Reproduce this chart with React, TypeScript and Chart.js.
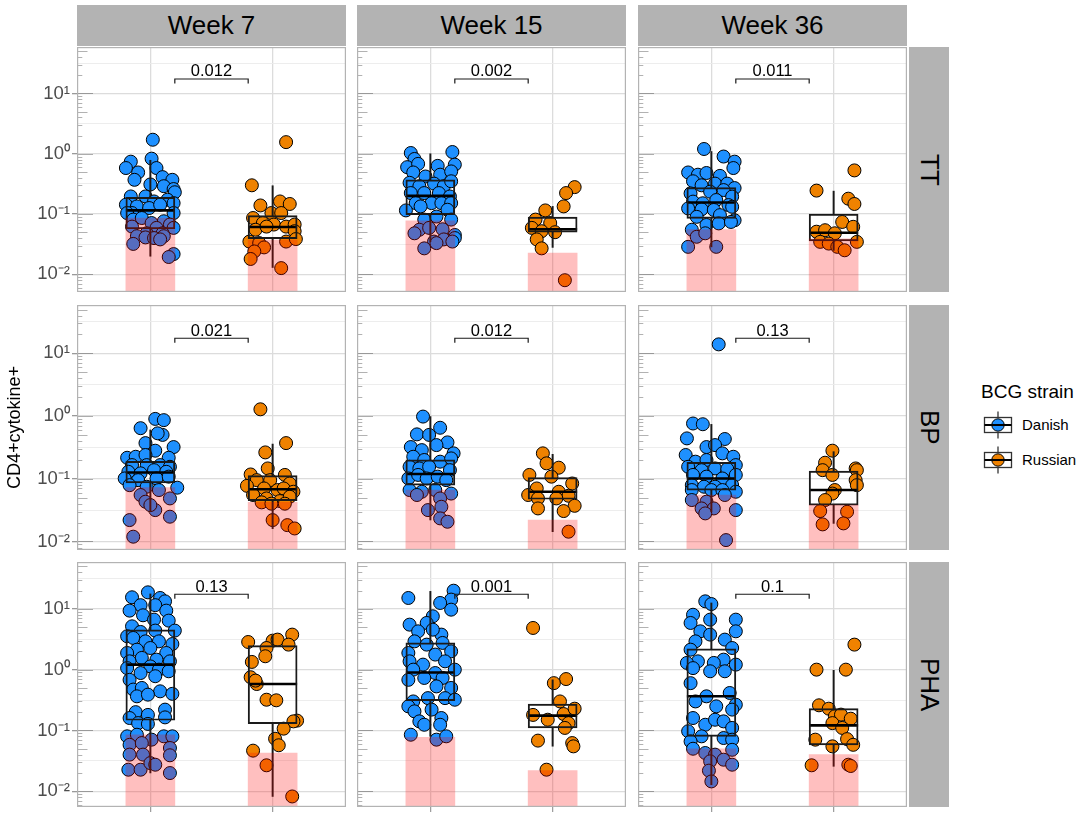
import React, { useEffect, useRef } from "react";
import { Chart, registerables } from "chart.js";

Chart.register(...registerables);

type Pt = [number, number];

// ---------- labels & categories ----------
const weeks = ["Week 7", "Week 15", "Week 36"];
const stimulations = ["TT", "BP", "PHA"];
const strains = ["Danish", "Russian"];
const strainPositions = [1, 2];
const strainColors = ["#1E90FF", "#EF8200"];
const yTitle = "CD4+cytokine+";
const legendTitle = "BCG strain";

// ---------- axis ticks ----------
const yTickValues = [0.01, 0.1, 1, 10];
const yTickLabels = ["10⁻²", "10⁻¹", "10⁰", "10¹"];
const rowYMin = [0.0051, 0.0073, 0.0055];
const rowYMax = [59, 59, 59];

// ---------- p-values (bracket labels) ----------
const ttPValues = ["0.012", "0.002", "0.011"];
const bpPValues = ["0.021", "0.012", "0.13"];
const phaPValues = ["0.13", "0.001", "0.1"];
const bracketFrom = 1.2;
const bracketTo = 1.8;
const bracketTop = 17.4;
const bracketEnd = 14.7;

// ---------- background (pink) levels: [Danish, Russian] per week ----------
const ttBackground = [[0.086, 0.037], [0.077, 0.0226], [0.0555, 0.039]];
const bpBackground = [[0.072, 0.042], [0.066, 0.0219], [0.055, 0.038]];
const phaBackground = [[0.085, 0.0425], [0.077, 0.0218], [0.05, 0.04]];

// ---------- box stats [lowWhisker, q1, median, q3, highWhisker] ----------
const ttW7DanishBox = [0.02, 0.057, 0.115, 0.19, 0.78];
const ttW7RussianBox = [0.013, 0.039, 0.061, 0.094, 0.295];
const ttW15DanishBox = [0.035, 0.0975, 0.2, 0.37, 1.0];
const ttW15RussianBox = [0.028, 0.05, 0.056, 0.089, 0.134];
const ttW36DanishBox = [0.0286, 0.085, 0.156, 0.275, 1.09];
const ttW36RussianBox = [0.025, 0.036, 0.049, 0.1, 0.24];
const bpW7DanishBox = [0.0297, 0.086, 0.126, 0.19, 0.6];
const bpW7RussianBox = [0.016, 0.0446, 0.068, 0.112, 0.357];
const bpW15DanishBox = [0.022, 0.079, 0.119, 0.2, 0.98];
const bpW15RussianBox = [0.0143, 0.047, 0.062, 0.104, 0.245];
const bpW36DanishBox = [0.0297, 0.066, 0.101, 0.182, 0.736];
const bpW36RussianBox = [0.0194, 0.038, 0.066, 0.132, 0.27];
const phaW7DanishBox = [0.02, 0.147, 1.21, 4.5, 17.6];
const phaW7RussianBox = [0.0082, 0.129, 0.58, 2.48, 3.67];
const phaW15DanishBox = [0.08, 0.309, 0.9, 2.75, 19.4];
const phaW15RussianBox = [0.055, 0.11, 0.175, 0.272, 0.68];
const phaW36DanishBox = [0.0128, 0.08, 0.364, 2.19, 12.5];
const phaW36RussianBox = [0.0257, 0.058, 0.121, 0.228, 0.975];

// ---------- individual points [jitter offset, value] ----------
const ttW7Danish: Pt[] = [
  [0.02, 1.71], [-0.16, 0.74], [-0.2, 0.58], [0.01, 0.83], [0.05, 0.58], [-0.1, 0.49], [-0.13, 0.37],
  [0.1, 0.41], [0.18, 0.37], [0, 0.31], [0.11, 0.29], [0.19, 0.26], [0.2, 0.23], [-0.16, 0.196],
  [-0.04, 0.196], [0.03, 0.162], [0.14, 0.173], [0.19, 0.152], [-0.2, 0.143], [-0.11, 0.134],
  [-0.01, 0.126], [0.08, 0.143], [-0.15, 0.104], [-0.19, 0.104], [0.19, 0.104], [-0.14, 0.081],
  [-0.07, 0.086], [0.01, 0.071], [0.11, 0.076], [0.16, 0.067], [0.19, 0.059], [0.05, 0.059],
  [-0.15, 0.062], [-0.03, 0.048], [0.1, 0.048], [-0.11, 0.043], [-0.04, 0.041], [0.03, 0.04],
  [0.11, 0.043], [-0.14, 0.032], [0.08, 0.038], [0.19, 0.0217], [0.15, 0.0194],
];
const ttW7Russian: Pt[] = [
  [0.11, 1.56], [-0.17, 0.3], [-0.1, 0.139], [0.06, 0.162], [0.14, 0.147], [-0.16, 0.086], [-0.01, 0.104],
  [0.07, 0.104], [-0.08, 0.071], [0.01, 0.067], [0.11, 0.062], [0.18, 0.067], [-0.14, 0.055], [-0.05, 0.062],
  [0.18, 0.052], [-0.19, 0.035], [-0.11, 0.033], [0.11, 0.035], [0.19, 0.0385], [-0.07, 0.028],
  [-0.15, 0.024], [-0.18, 0.018], [0.07, 0.0127],
];
const ttW15Danish: Pt[] = [
  [-0.16, 1.03], [-0.13, 0.82], [-0.19, 0.6], [-0.1, 0.68], [0.18, 1.07], [0.2, 0.66], [0.06, 0.63],
  [-0.14, 0.49], [-0.04, 0.42], [0.08, 0.45], [0.17, 0.51], [-0.17, 0.33], [-0.09, 0.29], [0.03, 0.32],
  [0.11, 0.29], [0.17, 0.35], [-0.16, 0.223], [-0.05, 0.223], [0.07, 0.223], [0.16, 0.196], [-0.12, 0.152],
  [0.01, 0.152], [0.09, 0.152], [0.17, 0.152], [-0.2, 0.115], [-0.08, 0.134], [0.14, 0.118], [-0.05, 0.081],
  [0.05, 0.091], [0.17, 0.081], [-0.09, 0.055], [-0.01, 0.059], [0.1, 0.056], [0.2, 0.045], [-0.13, 0.048],
  [0.03, 0.035], [0.11, 0.038], [0.2, 0.04], [-0.05, 0.027], [0.05, 0.033], [0.18, 0.035],
];
const ttW15Russian: Pt[] = [
  [0.18, 0.28], [0.11, 0.223], [0.09, 0.134], [-0.06, 0.115], [-0.14, 0.081], [-0.02, 0.071],
  [-0.17, 0.059], [-0.09, 0.052], [0.02, 0.05], [-0.13, 0.038], [-0.09, 0.027], [0.1, 0.008],
];
const ttW36Danish: Pt[] = [
  [-0.06, 1.2], [0.1, 0.9], [0.19, 0.74], [0.18, 0.58], [-0.19, 0.49], [-0.11, 0.45], [-0.04, 0.48],
  [0.07, 0.43], [-0.15, 0.35], [-0.08, 0.3], [0.03, 0.32], [0.13, 0.32], [0.19, 0.27], [-0.17, 0.22],
  [-0.01, 0.235], [0.1, 0.25], [0.17, 0.195], [-0.15, 0.161], [-0.07, 0.151], [0.04, 0.171], [0.14, 0.141],
  [-0.19, 0.124], [-0.08, 0.12], [0.02, 0.117], [0.17, 0.132], [-0.12, 0.09], [0.07, 0.096], [0.19, 0.079],
  [-0.16, 0.055], [-0.04, 0.066], [0.06, 0.07], [0.16, 0.074], [-0.12, 0.042], [-0.19, 0.0286],
  [0.04, 0.0286], [-0.05, 0.048],
];
const ttW36Russian: Pt[] = [
  [0.17, 0.53], [-0.14, 0.245], [0.12, 0.18], [0.17, 0.147], [0.07, 0.074], [-0.14, 0.051], [-0.07, 0.054],
  [0.01, 0.048], [0.16, 0.0615], [-0.11, 0.0346], [-0.04, 0.0324], [0.03, 0.0286], [0.09, 0.0251],
  [0.19, 0.0346],
];
const bpW7Danish: Pt[] = [
  [0.04, 0.9], [0.11, 0.86], [-0.08, 0.64], [0.1, 0.5], [0.06, 0.53], [-0.04, 0.37], [0.19, 0.32],
  [0.04, 0.28], [-0.19, 0.216], [-0.12, 0.224], [-0.04, 0.239], [0.15, 0.216], [-0.03, 0.165],
  [-0.15, 0.165], [0.08, 0.165], [0.16, 0.155], [-0.18, 0.129], [-0.08, 0.122], [0.03, 0.137],
  [0.13, 0.129], [-0.21, 0.101], [-0.1, 0.095], [0.05, 0.101], [0.15, 0.108], [-0.17, 0.079],
  [-0.03, 0.0745], [0.22, 0.072], [0.07, 0.066], [-0.08, 0.055], [-0.04, 0.043], [0.16, 0.0485],
  [0.04, 0.0316], [0, 0.038], [-0.17, 0.0219], [0.16, 0.0248], [-0.14, 0.0119],
];
const bpW7Russian: Pt[] = [
  [-0.1, 1.28], [0.11, 0.37], [-0.06, 0.263], [-0.04, 0.146], [-0.18, 0.117], [-0.13, 0.095], [-0.02, 0.095],
  [0.1, 0.115], [-0.21, 0.077], [0.14, 0.084], [-0.07, 0.07], [0.04, 0.066], [0.09, 0.07], [0.17, 0.062],
  [-0.16, 0.055], [-0.05, 0.0485], [0.06, 0.044], [0.14, 0.0516], [-0.09, 0.042], [-0.01, 0.04],
  [0.1, 0.04], [0, 0.0219], [0.12, 0.0182], [0.18, 0.0161],
];
const bpW15Danish: Pt[] = [
  [-0.06, 0.98], [0.08, 0.65], [-0.11, 0.51], [-0.01, 0.5], [0.14, 0.38], [-0.16, 0.32], [-0.07, 0.286],
  [0.05, 0.344], [0.19, 0.254], [-0.14, 0.224], [-0.05, 0.199], [0.08, 0.187], [0.17, 0.211],
  [-0.17, 0.155], [-0.09, 0.146], [-0.01, 0.155], [0.16, 0.137], [-0.18, 0.101], [-0.1, 0.115],
  [-0.03, 0.101], [0.06, 0.108], [0.13, 0.095], [-0.17, 0.066], [-0.07, 0.062], [0.04, 0.066],
  [0.17, 0.058], [-0.11, 0.055], [0.08, 0.0485], [-0.02, 0.0316], [0.09, 0.0357], [0.08, 0.0233],
  [0.14, 0.0206],
];
const bpW15Russian: Pt[] = [
  [-0.08, 0.254], [-0.05, 0.176], [0.05, 0.15], [-0.19, 0.115], [-0.01, 0.108], [0.16, 0.084], [-0.13, 0.07],
  [0.05, 0.062], [-0.2, 0.055], [0.13, 0.0535], [-0.12, 0.0485], [0.03, 0.0485], [0.18, 0.037],
  [-0.12, 0.0336], [0.09, 0.0305], [0.13, 0.0143],
];
const bpW36Danish: Pt[] = [
  [0.06, 13.9], [-0.15, 0.76], [-0.07, 0.74], [-0.2, 0.44], [0.11, 0.43], [-0.04, 0.32], [0.03, 0.344],
  [-0.21, 0.239], [0.09, 0.254], [0.18, 0.224], [-0.13, 0.187], [-0.04, 0.199], [0.2, 0.165], [-0.19, 0.155],
  [-0.08, 0.137], [0.03, 0.146], [0.13, 0.143], [-0.15, 0.115], [-0.04, 0.108], [0.09, 0.101], [0.2, 0.115],
  [-0.16, 0.079], [-0.06, 0.0745], [0.03, 0.0745], [0.17, 0.079], [-0.16, 0.066], [0, 0.066], [0.09, 0.066],
  [0.2, 0.062], [-0.16, 0.0457], [-0.04, 0.043], [0.11, 0.055], [-0.08, 0.0336], [0.02, 0.0336],
  [0.2, 0.0316], [-0.05, 0.028], [0.12, 0.0105],
];
const bpW36Russian: Pt[] = [
  [-0.01, 0.28], [-0.07, 0.18], [-0.09, 0.137], [0.18, 0.146], [0.19, 0.137], [-0.01, 0.115], [0.18, 0.095],
  [0.19, 0.079], [0.01, 0.066], [-0.01, 0.058], [-0.07, 0.0457], [-0.11, 0.0305], [0.11, 0.0297],
  [-0.09, 0.0187], [0.08, 0.0194],
];
const phaW7Danish: Pt[] = [
  [-0.02, 18.7], [-0.15, 15.5], [0.08, 15.1], [0.12, 13.3], [-0.08, 11.5], [0.04, 11.5], [-0.17, 9.35],
  [0.13, 9.35], [-0.06, 7.84], [0.03, 6.65], [0.15, 6.4], [-0.15, 5.16], [0.2, 4.39], [-0.08, 4.17],
  [0.04, 4.39], [-0.19, 3.54], [-0.14, 3.32], [0.07, 2.92], [0.18, 2.64], [-0.04, 2.92], [-0.11, 2.13],
  [0, 2.27], [-0.19, 1.88], [0.13, 1.88], [-0.07, 1.56], [0.05, 1.46], [-0.17, 1.37], [0.16, 1.37],
  [-0.19, 1.06], [0, 1.13], [-0.08, 0.88], [0.07, 1.0], [0.15, 0.94], [-0.17, 0.68], [0.04, 0.78],
  [-0.14, 0.47], [-0.07, 0.5], [0.08, 0.44], [0.18, 0.4], [-0.11, 0.364], [-0.02, 0.388], [-0.12, 0.2],
  [-0.02, 0.18], [0.12, 0.22], [-0.17, 0.16], [0.12, 0.164], [-0.1, 0.132], [-0.02, 0.128], [-0.19, 0.08],
  [-0.11, 0.085], [0.01, 0.0705], [0.11, 0.08], [0.18, 0.08], [-0.17, 0.058], [-0.07, 0.062], [0.16, 0.0514],
  [-0.17, 0.04], [-0.06, 0.04], [0.16, 0.039], [-0.18, 0.0226], [-0.08, 0.0226], [0, 0.029], [0.04, 0.0273],
  [0.16, 0.0199],
];
const phaW7Russian: Pt[] = [
  [-0.2, 2.85], [0, 3.0], [0.04, 3.12], [0.16, 3.77], [0.13, 2.58], [-0.05, 2.27], [-0.06, 1.66], [-0.17, 1.34],
  [-0.18, 0.75], [-0.13, 0.58], [-0.14, 0.66], [-0.05, 0.32], [0.03, 0.313], [0.2, 0.145], [0.17, 0.141],
  [0.09, 0.107], [0.02, 0.073], [0.05, 0.057], [-0.16, 0.0465], [-0.05, 0.0267], [0.16, 0.0082],
];
const phaW15Danish: Pt[] = [
  [0.19, 19.9], [-0.18, 15.1], [0.17, 14.2], [0.08, 12.5], [0.17, 9.7], [0.02, 7.55], [-0.17, 5.5],
  [-0.03, 5.86], [-0.1, 4.27], [0.09, 3.77], [0.02, 4.55], [-0.13, 2.92], [0.1, 2.75], [-0.03, 2.58],
  [-0.18, 1.88], [0.04, 1.77], [0.17, 2.0], [-0.17, 1.37], [-0.06, 1.21], [0.12, 1.37], [-0.14, 1.0],
  [0.2, 1.0], [0.04, 0.88], [-0.18, 0.68], [-0.05, 0.73], [0.1, 0.73], [0.05, 0.53], [0.17, 0.5],
  [-0.02, 0.34], [-0.14, 0.3], [0.12, 0.34], [0.2, 0.32], [-0.18, 0.249], [-0.13, 0.206], [0.01, 0.22],
  [0.09, 0.16], [-0.09, 0.141], [-0.05, 0.124], [0.08, 0.124], [-0.16, 0.085], [0.05, 0.0705], [0.13, 0.08],
];
const phaW15Russian: Pt[] = [
  [-0.16, 4.85], [0.11, 0.7], [0.01, 0.6], [0.06, 0.3], [-0.16, 0.18], [-0.04, 0.15], [0.09, 0.186],
  [0.18, 0.228], [0.13, 0.132], [0.1, 0.11], [-0.12, 0.068], [0.16, 0.062], [0.17, 0.0547], [-0.05, 0.0226],
];
const phaW36Danish: Pt[] = [
  [-0.05, 13.3], [0, 12.0], [-0.15, 8.0], [0.2, 6.65], [-0.17, 5.86], [-0.01, 6.65], [0.2, 4.27],
  [-0.09, 4.27], [-0.01, 3.77], [0.11, 3.12], [-0.13, 2.92], [0.17, 2.27], [-0.17, 2.13], [0.1, 1.46],
  [-0.11, 1.37], [0.02, 1.29], [-0.2, 1.29], [0.2, 1.21], [-0.15, 1.06], [-0.01, 0.94], [0.11, 0.94],
  [-0.17, 0.6], [0.15, 0.413], [-0.04, 0.364], [-0.13, 0.3], [0.2, 0.265], [0.04, 0.249], [0.17, 0.22],
  [-0.15, 0.16], [-0.05, 0.124], [0.03, 0.15], [0.1, 0.141], [0.17, 0.11], [-0.19, 0.097], [-0.08, 0.08],
  [0.1, 0.075], [-0.17, 0.066], [0.17, 0.0705], [-0.15, 0.05], [-0.05, 0.0425], [0.03, 0.04], [0.17, 0.048],
  [0.1, 0.033], [-0.01, 0.031], [0.17, 0.0273], [-0.02, 0.0218], [0, 0.0145],
];
const phaW36Russian: Pt[] = [
  [0.17, 2.58], [-0.14, 1.0], [0.1, 1.0], [-0.12, 0.259], [-0.04, 0.228], [0.01, 0.171], [0.06, 0.182],
  [0.14, 0.156], [-0.01, 0.132], [0.07, 0.11], [-0.15, 0.0705], [0.11, 0.072], [0.16, 0.058], [-0.01, 0.0547],
  [-0.18, 0.0267], [0.12, 0.0273], [0.14, 0.026],
];

// ---------- assemble (row = stimulation, col = week) ----------
const panelPoints: Pt[][][][] = [
  [[ttW7Danish, ttW7Russian], [ttW15Danish, ttW15Russian], [ttW36Danish, ttW36Russian]],
  [[bpW7Danish, bpW7Russian], [bpW15Danish, bpW15Russian], [bpW36Danish, bpW36Russian]],
  [[phaW7Danish, phaW7Russian], [phaW15Danish, phaW15Russian], [phaW36Danish, phaW36Russian]],
];
const panelBoxes: number[][][][] = [
  [[ttW7DanishBox, ttW7RussianBox], [ttW15DanishBox, ttW15RussianBox], [ttW36DanishBox, ttW36RussianBox]],
  [[bpW7DanishBox, bpW7RussianBox], [bpW15DanishBox, bpW15RussianBox], [bpW36DanishBox, bpW36RussianBox]],
  [[phaW7DanishBox, phaW7RussianBox], [phaW15DanishBox, phaW15RussianBox], [phaW36DanishBox, phaW36RussianBox]],
];
const panelBackground = [ttBackground, bpBackground, phaBackground];
const panelPValues = [ttPValues, bpPValues, phaPValues];

// ---------- layout ----------
const FONT = '"Liberation Sans", Arial, Helvetica, sans-serif';
const colLeft = [77, 357, 638];
const panelW = 269;
const rowTop = [47, 305, 562];
const panelH = 245;
const yAxisW = 77;
const xAxisH = 8;
const BOX_W = 49;

const isDecade = (v: number) => Math.abs(Math.log10(v) - Math.round(Math.log10(v))) < 1e-6;

const logTicksPlugin = {
  id: "logTicks",
  beforeDatasetsDraw(chart: any) {
    const { ctx, chartArea: a, scales } = chart;
    const y = scales.y;
    ctx.save();
    ctx.strokeStyle = "rgba(0,0,0,0.38)";
    ctx.lineWidth = 0.8;
    for (let k = -3; k <= 2; k++) {
      for (let m = 1; m <= 9; m++) {
        const v = m * Math.pow(10, k);
        if (v < y.min || v > y.max) continue;
        const py = Math.round(y.getPixelForValue(v)) + 0.5;
        const len = m === 1 ? 16 : m === 5 ? 10.5 : 5.3;
        ctx.beginPath();
        ctx.moveTo(a.left, py);
        ctx.lineTo(a.left + len, py);
        ctx.stroke();
      }
    }
    ctx.restore();
  },
};

const borderPlugin = {
  id: "panelBorder",
  afterDraw(chart: any) {
    const { ctx, chartArea: a } = chart;
    ctx.save();
    ctx.strokeStyle = "#b3b3b3";
    ctx.lineWidth = 1.2;
    ctx.strokeRect(a.left + 0.6, a.top + 0.6, a.right - a.left - 1.2, a.bottom - a.top - 1.2);
    ctx.restore();
  },
};

function makePLabelPlugin(text: string) {
  return {
    id: "pLabel",
    afterDatasetsDraw(chart: any) {
      const { ctx, scales } = chart;
      ctx.save();
      ctx.font = `16.5px ${FONT}`;
      ctx.fillStyle = "#000";
      ctx.textAlign = "center";
      ctx.textBaseline = "alphabetic";
      ctx.fillText(text, scales.x.getPixelForValue((bracketFrom + bracketTo) / 2), scales.y.getPixelForValue(bracketTop) - 2.5);
      ctx.restore();
    },
  };
}

function Panel({ row, col }: { row: number; col: number }) {
  const ref = useRef<HTMLCanvasElement>(null);
  const left = col === 0 ? 0 : colLeft[col];
  const width = col === 0 ? colLeft[0] + panelW : panelW;
  const top = rowTop[row];
  const height = panelH + (row === 2 ? xAxisH : 0);

  useEffect(() => {
    const yMin = rowYMin[row];
    const yMax = rowYMax[row];
    const pts = panelPoints[row][col];
    const boxes = panelBoxes[row][col];
    const bg = panelBackground[row][col];

    const datasets: any[] = [
      {
        type: "bar",
        data: strainPositions.map((p, i) => ({ x: p, y: [yMin, bg[i]] })),
        backgroundColor: "rgba(255,0,0,0.25)",
        borderWidth: 0,
        barThickness: BOX_W,
        grouped: false,
        order: 0,
      },
      {
        type: "scatter",
        data: [
          { x: bracketFrom, y: bracketEnd },
          { x: bracketFrom, y: bracketTop },
          { x: bracketTo, y: bracketTop },
          { x: bracketTo, y: bracketEnd },
        ],
        showLine: true,
        borderColor: "#1a1a1a",
        borderWidth: 1.2,
        pointRadius: 0,
        tension: 0,
        order: 1,
      },
      {
        type: "bar",
        data: strainPositions.map((p, i) => ({ x: p, y: [boxes[i][1], boxes[i][3]] })),
        backgroundColor: "rgba(0,0,0,0)",
        borderColor: "#1a1a1a",
        borderWidth: 1.3,
        borderSkipped: false,
        barThickness: BOX_W,
        grouped: false,
        order: 2,
      },
      {
        type: "bar",
        data: strainPositions.flatMap((p, i) => [
          { x: p, y: [boxes[i][0], boxes[i][1]] },
          { x: p, y: [boxes[i][3], boxes[i][4]] },
        ]),
        backgroundColor: "#1a1a1a",
        borderWidth: 0,
        barThickness: 1.3,
        grouped: false,
        order: 2,
      },
      {
        type: "scatter",
        data: strainPositions.map((p, i) => ({ x: p, y: boxes[i][2] })),
        pointStyle: "line",
        pointRadius: BOX_W / 2,
        borderColor: "#000",
        borderWidth: 2.6,
        order: 2,
      },
      ...strains.map((s, i) => ({
        type: "scatter",
        label: s,
        data: pts[i].map(([dx, v]) => ({ x: strainPositions[i] + dx, y: v })),
        backgroundColor: strainColors[i],
        borderColor: "#000",
        borderWidth: 1,
        pointRadius: 6.5,
        order: 3,
      })),
    ];

    const chart = new Chart(ref.current as HTMLCanvasElement, {
      type: "scatter",
      data: { datasets },
      options: {
        animation: false,
        responsive: false,
        events: [],
        layout: { padding: 0, autoPadding: false },
        plugins: {
          legend: { display: false },
          tooltip: { enabled: false },
          title: { display: false },
        },
        scales: {
          x: {
            type: "linear",
            min: 0.4,
            max: 2.6,
            offset: false,
            afterBuildTicks: (s: any) => {
              s.ticks = strainPositions.map((v) => ({ value: v }));
            },
            afterFit: (s: any) => {
              s.height = row === 2 ? xAxisH : 0;
              s.paddingLeft = 0;
              s.paddingRight = 0;
              s.paddingTop = 0;
              s.paddingBottom = 0;
            },
            ticks: { display: false },
            grid: {
              offset: false,
              color: "#dcdcdc",
              lineWidth: 1.3,
              drawTicks: row === 2,
              tickLength: 5,
              tickColor: "#9a9a9a",
              tickWidth: 1.2,
            },
            border: { display: false },
          },
          y: {
            type: "logarithmic",
            min: yMin,
            max: yMax,
            offset: false,
            afterBuildTicks: (s: any) => {
              const t: any[] = [];
              for (let k = -3; k <= 2; k++) {
                for (const e of [0, 0.5]) {
                  const v = Math.pow(10, k + e);
                  if (v >= s.min && v <= s.max) t.push({ value: v });
                }
              }
              s.ticks = t;
            },
            afterFit: (s: any) => {
              s.width = col === 0 ? yAxisW : 0;
              s.paddingTop = 0;
              s.paddingBottom = 0;
              s.paddingLeft = 0;
              s.paddingRight = 0;
            },
            ticks: {
              display: col === 0,
              autoSkip: false,
              padding: 2,
              color: "#4d4d4d",
              font: { family: FONT, size: 18.5 },
              callback: (v: any) => {
                const idx = yTickValues.findIndex((t) => Math.abs(t - Number(v)) / t < 1e-6);
                return idx >= 0 ? yTickLabels[idx] : "";
              },
            },
            grid: {
              offset: false,
              color: (c: any) => (c.tick && isDecade(c.tick.value) ? "#dcdcdc" : "#ebebeb"),
              lineWidth: (c: any) => (c.tick && isDecade(c.tick.value) ? 1.3 : 0.9),
              drawTicks: col === 0,
              tickLength: 5,
              tickColor: (c: any) => (c.tick && isDecade(c.tick.value) ? "#9a9a9a" : "rgba(0,0,0,0)"),
            },
            border: { display: false },
          },
        },
      } as any,
      plugins: [logTicksPlugin, borderPlugin, makePLabelPlugin(panelPValues[row][col])],
    });
    return () => chart.destroy();
  }, [row, col]);

  return (
    <canvas
      ref={ref}
      width={width}
      height={height}
      style={{ position: "absolute", left, top, width, height }}
    />
  );
}

function LegendKey({ color, cy }: { color: string; cy: number }) {
  return (
    <svg width={30} height={30} style={{ position: "absolute", left: 982.5, top: cy - 15 }}>
      <line x1={15} y1={1.5} x2={15} y2={28.5} stroke="#333" strokeWidth={1.3} />
      <rect x={1.5} y={7.5} width={27} height={15} fill="#fff" stroke="#333" strokeWidth={1.3} />
      <circle cx={15} cy={15} r={6.2} fill={color} stroke="#000" strokeWidth={1} />
      <line x1={1.5} y1={15} x2={28.5} y2={15} stroke="#000" strokeWidth={2} />
    </svg>
  );
}

export default function App() {
  const stripStyle: React.CSSProperties = {
    position: "absolute",
    background: "#b3b3b3",
    color: "#000",
    fontFamily: FONT,
    fontSize: 26,
    display: "flex",
    alignItems: "center",
    justifyContent: "center",
  };
  return (
    <div
      style={{
        position: "absolute",
        left: 0,
        top: 0,
        width: 1084,
        height: 820,
        background: "#fff",
        overflow: "hidden",
        fontFamily: FONT,
      }}
    >
      {weeks.map((w, c) => (
        <div key={w} style={{ ...stripStyle, left: colLeft[c], top: 5, width: panelW, height: 41 }}>
          {w}
        </div>
      ))}
      {stimulations.map((s, r) => (
        <div
          key={s}
          style={{
            ...stripStyle,
            left: 909,
            top: rowTop[r],
            width: 40,
            height: panelH,
            writingMode: "vertical-rl",
          }}
        >
          {s}
        </div>
      ))}
      {stimulations.map((s, r) =>
        weeks.map((w, c) => <Panel key={`${s}-${w}`} row={r} col={c} />)
      )}
      <div
        style={{
          position: "absolute",
          left: 4,
          top: rowTop[0],
          width: 22,
          height: rowTop[2] + panelH - rowTop[0],
          display: "flex",
          alignItems: "center",
          justifyContent: "center",
          writingMode: "vertical-rl",
          transform: "rotate(180deg)",
          fontSize: 18,
          color: "#000",
        }}
      >
        {yTitle}
      </div>
      <div style={{ position: "absolute", left: 981, top: 381, fontSize: 19, lineHeight: "22px", color: "#000" }}>
        {legendTitle}
      </div>
      {strains.map((s, i) => (
        <React.Fragment key={s}>
          <LegendKey color={strainColors[i]} cy={425 + i * 35} />
          <div
            style={{
              position: "absolute",
              left: 1022,
              top: 416 + i * 35,
              fontSize: 15,
              lineHeight: "18px",
              color: "#000",
            }}
          >
            {s}
          </div>
        </React.Fragment>
      ))}
    </div>
  );
}
